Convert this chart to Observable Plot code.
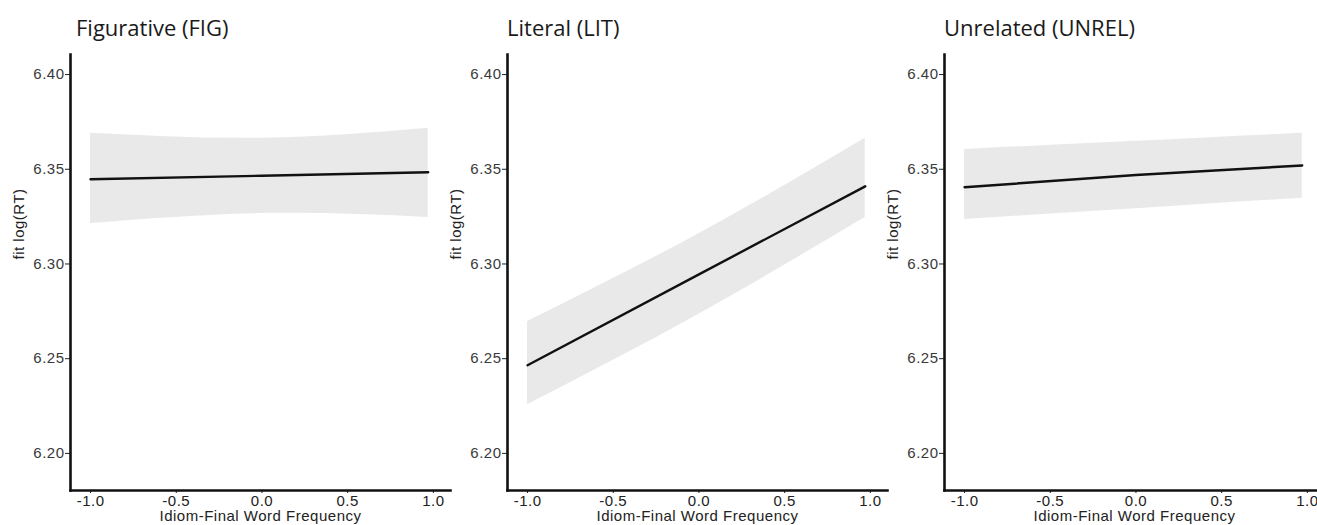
<!DOCTYPE html>
<html>
<head>
<meta charset="utf-8">
<script src="https://cdn.jsdelivr.net/npm/d3@7"></script>
<script src="https://cdn.jsdelivr.net/npm/@observablehq/plot@0.6"></script>
<style>
  html, body { margin: 0; padding: 0; background: #fff; overflow: hidden; }
  #wrap { position: relative; width: 1317px; height: 525px; }
  .panel { position: absolute; top: 0; }
  .title { position: absolute; top: 16px; font-family: "Open Sans", sans-serif; font-size: 22px; line-height: 1; color: #1a1a1a; white-space: nowrap; }
</style>
</head>
<body>
<div id="wrap"></div>
<script>
// Panel titles
const titles = ["Figurative (FIG)", "Literal (LIT)", "Unrelated (UNREL)"];
const yLabel = "fit log(RT)";
const xLabel = "Idiom-Final Word Frequency";
// x positions of the fitted values (idiom-final word frequency, centred)
const xs = [-1.0, 0.0, 0.97];
// fitted log(RT) and confidence band per condition
const figFit   = [6.3447, 6.3466, 6.3484];
const figLower = [6.3214, 6.3266, 6.3246];
const figUpper = [6.3690, 6.3664, 6.3717];
const litFit   = [6.2465, 6.2945, 6.3410];
const litLower = [6.2257, 6.2735, 6.3246];
const litUpper = [6.2696, 6.3160, 6.3664];
const unrFit   = [6.3405, 6.3470, 6.3520];
const unrLower = [6.3235, 6.3292, 6.3347];
const unrUpper = [6.3605, 6.3648, 6.3690];
// tick labels
const yTicks = [6.20, 6.25, 6.30, 6.35, 6.40];
const xTicks = [-1.0, -0.5, 0.0, 0.5, 1.0];

const series = [
  [figFit, figLower, figUpper],
  [litFit, litLower, litUpper],
  [unrFit, unrLower, unrUpper]
];
const panelLefts = [0, 437, 874];

const wrap = document.getElementById("wrap");

series.forEach(([fit, lo, hi], k) => {
  const data = xs.map((x, i) => ({x, fit: fit[i], lo: lo[i], hi: hi[i]}));
  const chart = Plot.plot({
    width: 450,
    height: 525,
    marginLeft: 70,
    marginRight: 0,
    marginTop: 54,
    marginBottom: 35,
    style: {fontFamily: "'Liberation Sans', Arial, sans-serif", fontSize: "15px", letterSpacing: "0.5px", background: "transparent", overflow: "visible", color: "#3a3a3a"},
    x: {domain: [-1.117, 1.1]},
    y: {domain: [6.1804, 6.4106]},
    marks: [
      Plot.areaY(data, {x: "x", y1: "lo", y2: "hi", fill: "#e9e9e9", curve: "natural"}),
      Plot.line(data, {x: "x", y: "fit", stroke: "#111", strokeWidth: 2.4}),
      Plot.axisY({ticks: yTicks, tickFormat: d => d.toFixed(2), tickSize: 5, tickPadding: 1,
        label: null, stroke: "#222"}),
      Plot.text([yLabel], {text: d => d, frameAnchor: "left", rotate: -90, dx: -51, dy: -13, fill: "#222"}),
      Plot.axisX({ticks: xTicks, tickFormat: d => d.toFixed(1), tickSize: 3, tickPadding: 2,
        label: xLabel, labelAnchor: "center", labelOffset: 30, labelArrow: "none", stroke: "#222", color: "#222"}),
      Plot.frame({anchor: "left", stroke: "#111", strokeWidth: 2.6}),
      Plot.frame({anchor: "bottom", stroke: "#111", strokeWidth: 2.6})
    ]
  });
  chart.classList.add("panel");
  chart.style.left = panelLefts[k] + "px";
  wrap.appendChild(chart);
  const t = document.createElement("div");
  t.className = "title";
  t.textContent = titles[k];
  t.style.left = (panelLefts[k] + (k === 0 ? 76 : 70)) + "px";
  wrap.appendChild(t);
});
</script>
</body>
</html>
